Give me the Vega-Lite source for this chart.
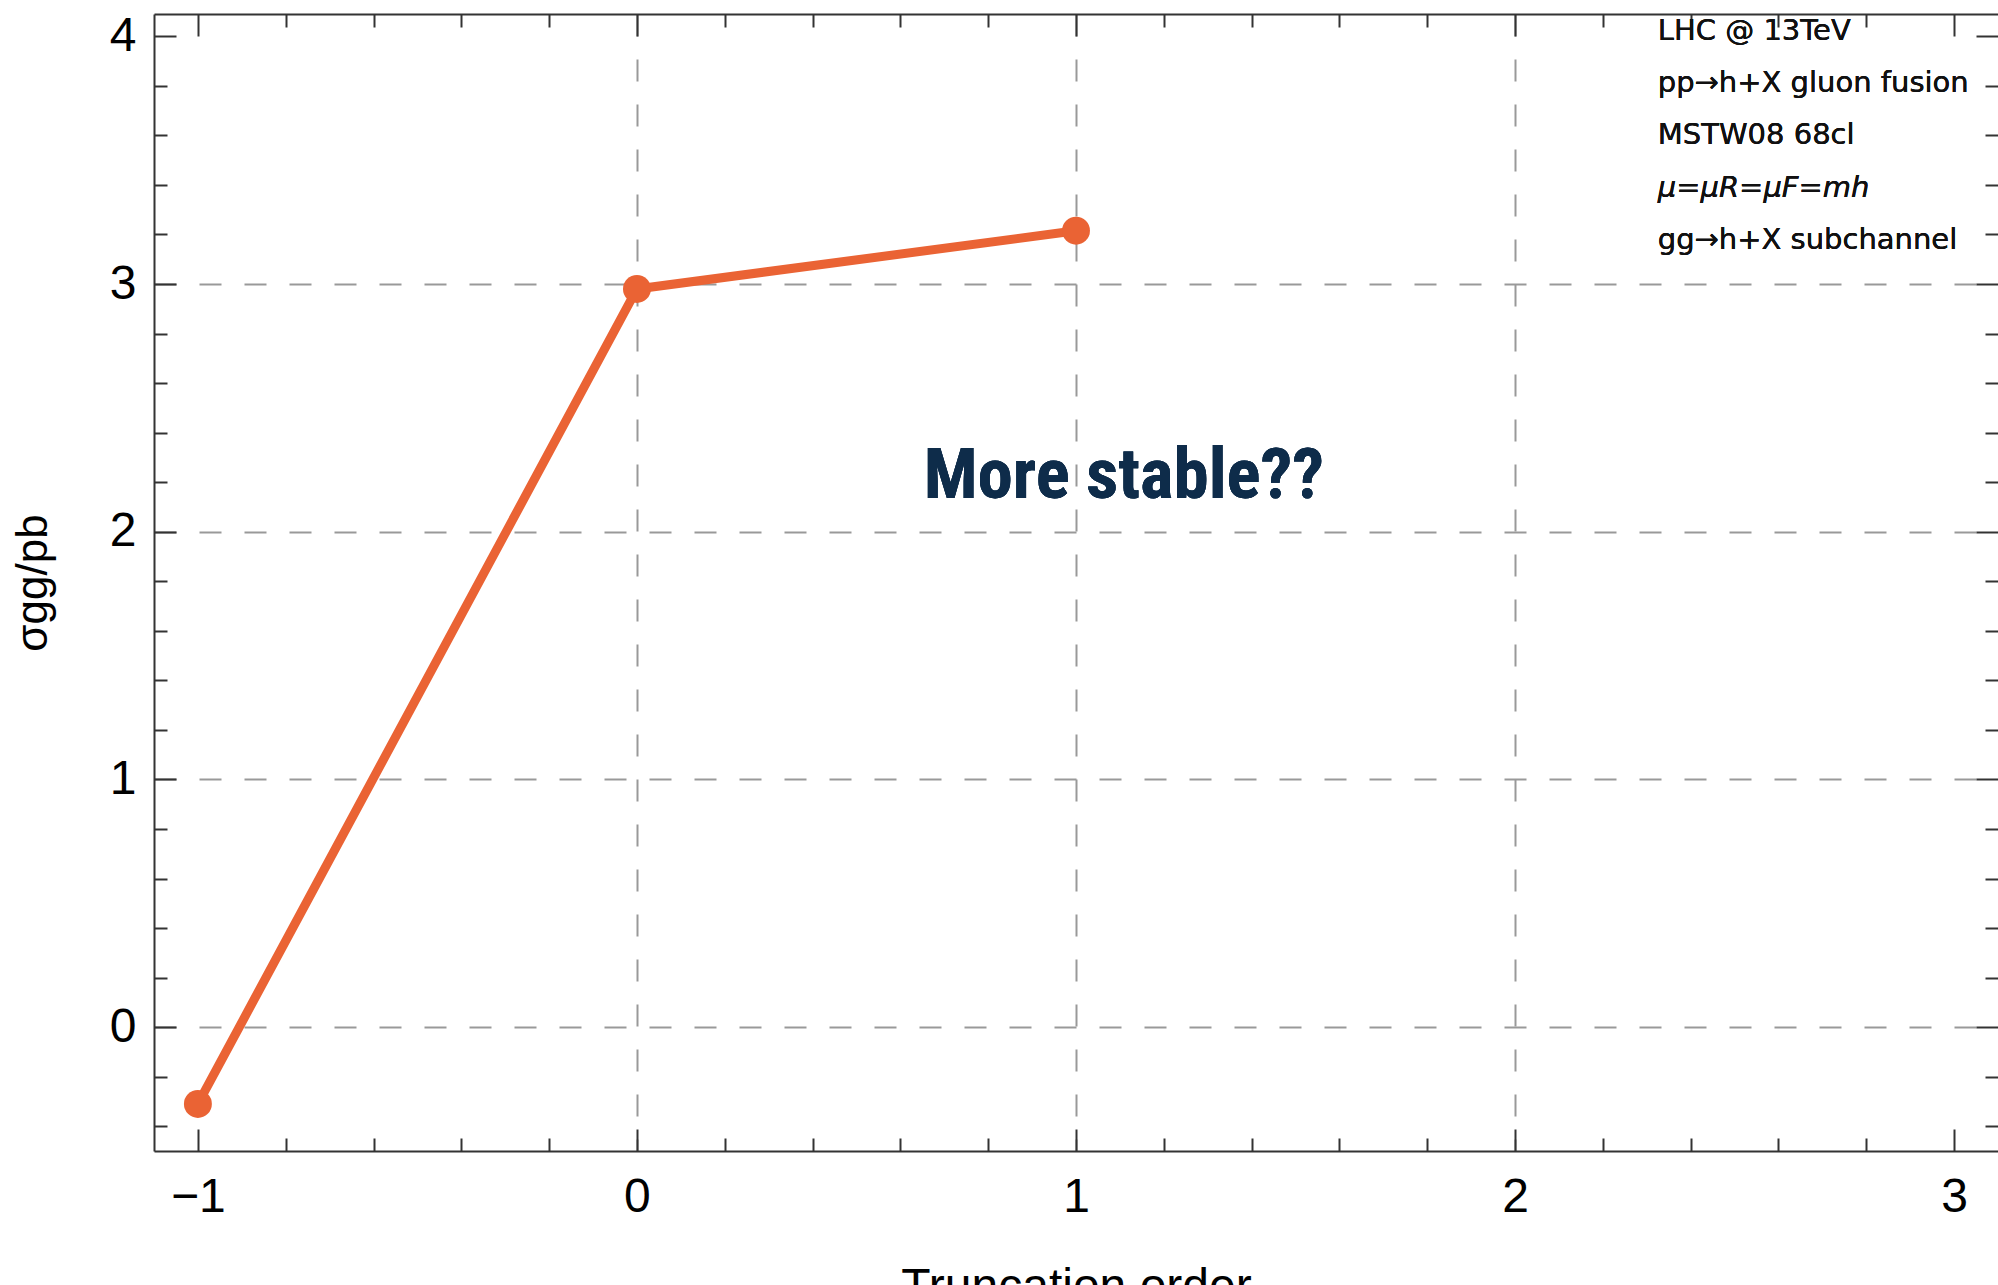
{
  "$schema": "https://vega.github.io/schema/vega-lite/v6.json",
  "width": 1844,
  "height": 1137,
  "autosize": {"type": "none"},
  "padding": {"left": 154, "top": 14, "right": 0, "bottom": 134},
  "background": "white",
  "config": {
    "view": {"stroke": null},
    "axis": {"labelFont": "Liberation Sans", "titleFont": "Liberation Sans", "labelFlush": false}
  },
  "data": {"values": [
    {"order": -1, "sigma": -0.31},
    {"order": 0, "sigma": 2.98},
    {"order": 1, "sigma": 3.215}
  ]},
  "resolve": {"axis": {"x": "independent", "y": "independent"}},
  "layer": [
    {
      "mark": {"type": "line", "color": "#EA6334", "strokeWidth": 9},
      "encoding": {
        "x": {"field": "order", "type": "quantitative",
          "scale": {"domain": [-1.1, 3.1], "nice": false, "zero": false},
          "axis": {"orient": "bottom", "values": [-1, 0, 1, 2, 3], "ticks": false, "grid": false,
            "domain": true, "domainColor": "#333", "domainWidth": 2,
            "labelFontSize": 48, "labelColor": "#000", "labelPadding": 22, "format": "d",
            "title": "Truncation order", "titleFontSize": 48, "titleFontWeight": "normal",
            "titleColor": "#000", "titlePadding": 42}},
        "y": {"field": "sigma", "type": "quantitative",
          "scale": {"domain": [-0.5, 4.09], "nice": false, "zero": false},
          "axis": {"orient": "left", "values": [0, 1, 2, 3, 4], "ticks": false, "grid": false,
            "domain": true, "domainColor": "#333", "domainWidth": 2,
            "labelFontSize": 48, "labelColor": "#000", "labelPadding": 18, "format": "d",
            "title": "σgg/pb", "titleFontSize": 44, "titleFontWeight": "normal",
            "titleColor": "#000", "titlePadding": 54}}
      }
    },
    {
      "mark": {"type": "point", "filled": true, "size": 780, "color": "#EA6334", "opacity": 1},
      "encoding": {
        "x": {"field": "order", "type": "quantitative",
          "axis": {"orient": "bottom", "values": [-1, 0, 1, 2, 3], "labels": false, "grid": false,
            "domain": false, "ticks": true, "tickSize": -22, "tickColor": "#333", "tickWidth": 2, "title": null}},
        "y": {"field": "sigma", "type": "quantitative",
          "axis": {"orient": "left", "values": [0, 1, 2, 3, 4], "labels": false, "grid": false,
            "domain": false, "ticks": true, "tickSize": -22, "tickColor": "#333", "tickWidth": 2, "title": null}}
      }
    },
    {
      "mark": {"type": "text", "text": "More stable??", "font": "Roboto Condensed, Roboto", "fontWeight": "bold",
        "fontSize": 71, "color": "#0E2C4A", "align": "center", "baseline": "middle"},
      "encoding": {
        "x": {"datum": 1.109, "type": "quantitative",
          "axis": {"orient": "bottom", "values": [-0.8, -0.6, -0.4, -0.2, 0.2, 0.4, 0.6, 0.8, 1.2, 1.4, 1.6, 1.8, 2.2, 2.4, 2.6, 2.8],
            "labels": false, "grid": false, "domain": false, "ticks": true, "tickSize": -13, "tickColor": "#333", "tickWidth": 2, "title": null}},
        "y": {"datum": 2.22, "type": "quantitative",
          "axis": {"orient": "left", "values": [-0.4, -0.2, 0.2, 0.4, 0.6, 0.8, 1.2, 1.4, 1.6, 1.8, 2.2, 2.4, 2.6, 2.8, 3.2, 3.4, 3.6, 3.8],
            "labels": false, "grid": false, "domain": false, "ticks": true, "tickSize": -13, "tickColor": "#333", "tickWidth": 2, "title": null}}
      }
    },
    {
      "mark": {"type": "text", "text": ["LHC @ 13TeV", "pp→h+X gluon fusion", "MSTW08 68cl"], "font": "DejaVu Sans",
        "fontSize": 29, "color": "#111", "align": "left", "baseline": "alphabetic", "lineHeight": 52.2},
      "encoding": {
        "x": {"datum": 2.325, "type": "quantitative",
          "axis": {"orient": "top", "values": [-1, 0, 1, 2, 3], "labels": false, "grid": false,
            "domain": true, "domainColor": "#333", "domainWidth": 2, "ticks": true, "tickSize": -22, "tickColor": "#333", "tickWidth": 2, "title": null}},
        "y": {"datum": 3.985, "type": "quantitative",
          "axis": {"orient": "right", "values": [0, 1, 2, 3, 4], "labels": false, "grid": false,
            "domain": false, "ticks": true, "tickSize": -22, "tickColor": "#333", "tickWidth": 2, "title": null}}
      }
    },
    {
      "mark": {"type": "text", "text": "μ=μR=μF=mh", "font": "DejaVu Sans", "fontStyle": "italic",
        "fontSize": 29, "color": "#111", "align": "left", "baseline": "alphabetic"},
      "encoding": {
        "x": {"datum": 2.325, "type": "quantitative",
          "axis": {"orient": "top", "values": [-0.8, -0.6, -0.4, -0.2, 0.2, 0.4, 0.6, 0.8, 1.2, 1.4, 1.6, 1.8, 2.2, 2.4, 2.6, 2.8],
            "labels": false, "grid": false, "domain": false, "ticks": true, "tickSize": -13, "tickColor": "#333", "tickWidth": 2, "title": null}},
        "y": {"datum": 3.351, "type": "quantitative",
          "axis": {"orient": "right", "values": [-0.4, -0.2, 0.2, 0.4, 0.6, 0.8, 1.2, 1.4, 1.6, 1.8, 2.2, 2.4, 2.6, 2.8, 3.2, 3.4, 3.6, 3.8],
            "labels": false, "grid": false, "domain": false, "ticks": true, "tickSize": -13, "tickColor": "#333", "tickWidth": 2, "title": null}}
      }
    },
    {
      "mark": {"type": "text", "text": "gg→h+X subchannel", "font": "DejaVu Sans",
        "fontSize": 29, "color": "#111", "align": "left", "baseline": "alphabetic"},
      "encoding": {
        "x": {"datum": 2.325, "type": "quantitative",
          "axis": {"orient": "bottom", "values": [0, 1, 2], "labels": false, "ticks": false, "domain": false,
            "grid": true, "gridColor": "#999", "gridDash": [22, 23], "gridWidth": 2, "title": null, "zindex": 0}},
        "y": {"datum": 3.141, "type": "quantitative",
          "axis": {"orient": "left", "values": [0, 1, 2, 3], "labels": false, "ticks": false, "domain": false,
            "grid": true, "gridColor": "#999", "gridDash": [22, 23], "gridWidth": 2, "title": null, "zindex": 0}}
      }
    }
  ]
}
